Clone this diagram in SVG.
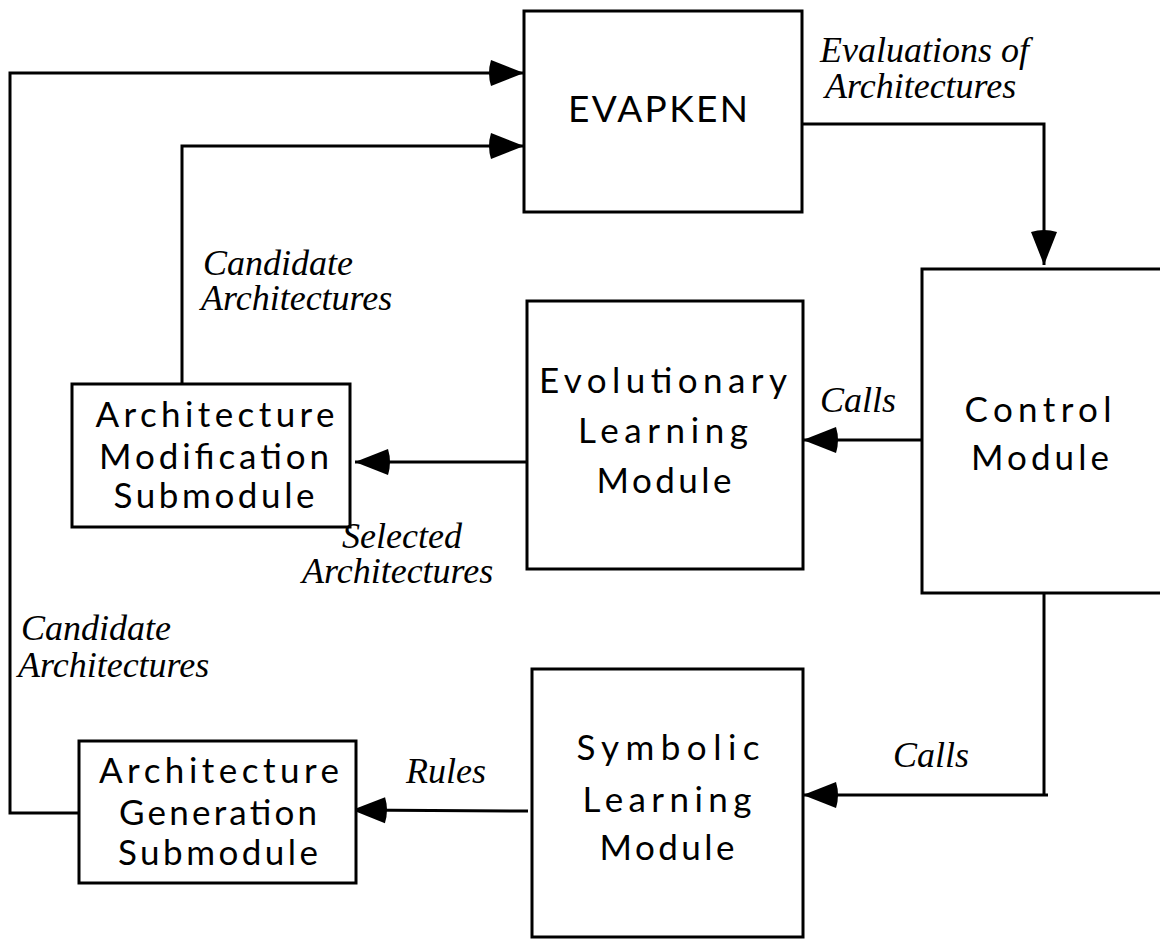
<svg xmlns="http://www.w3.org/2000/svg" width="1160" height="939" viewBox="0 0 1160 939">
<style>
.box{fill:#fff;stroke:#000;stroke-width:3}
.n{font-family:Lato,"DejaVu Sans","Liberation Sans",sans-serif;font-weight:400;font-size:35px;fill:#000;text-anchor:middle}
.lbl{font-family:"Liberation Serif","Times New Roman",serif;font-style:italic;font-weight:400;font-size:36px;fill:#000}
.c{fill:none;stroke:#000;stroke-width:3}
</style>
<defs>
<marker id="ah" markerUnits="userSpaceOnUse" markerWidth="40" markerHeight="30" refX="36" refY="15" orient="auto" overflow="visible">
<path d="M36,15 L3,2 Q-1,15 3,28 Z" fill="#000"/>
</marker>
</defs>
<rect width="1160" height="939" fill="#fff"/>
<g id="connectors">
<path class="c" d="M79,813 H10 V73 H524" marker-end="url(#ah)"/>
<path class="c" d="M182,384 V146 H524" marker-end="url(#ah)"/>
<path class="c" d="M802,124 H1044 V265" marker-end="url(#ah)"/>
<path class="c" d="M922,440 H803" marker-end="url(#ah)"/>
<path class="c" d="M527,462 H355" marker-end="url(#ah)"/>
<path class="c" d="M1044,593 V795"/>
<path class="c" d="M1048,795 H803" marker-end="url(#ah)"/>
<path class="c" d="M528,811 L352,810" marker-end="url(#ah)"/>
</g>
<g id="evapken">
<rect class="box" x="524" y="11" width="278" height="201"/>
<text class="n" x="658" y="122" style="font-size:37px" textLength="180" lengthAdjust="spacing">EVAPKEN</text>
</g>
<g id="control">
<rect class="box" x="922" y="269" width="245" height="324"/>
<text class="n" x="1038" y="422" textLength="147" lengthAdjust="spacing">Control</text>
<text class="n" x="1040" y="470" textLength="138" lengthAdjust="spacing">Module</text>
</g>
<g id="evolutionary">
<rect class="box" x="527" y="301" width="276" height="268"/>
<text class="n" x="663" y="393" textLength="248" lengthAdjust="spacing">Evolutionary</text>
<text class="n" x="663" y="443" textLength="170" lengthAdjust="spacing">Learning</text>
<text class="n" x="664" y="493" textLength="135" lengthAdjust="spacing">Module</text>
</g>
<g id="arch-mod">
<rect class="box" x="72" y="384" width="278" height="143"/>
<text class="n" x="215" y="427" textLength="239" lengthAdjust="spacing">Architecture</text>
<text class="n" x="214" y="469" textLength="230" lengthAdjust="spacing">Modification</text>
<text class="n" x="214" y="508" textLength="201" lengthAdjust="spacing">Submodule</text>
</g>
<g id="symbolic">
<rect class="box" x="532" y="669" width="271" height="268"/>
<text class="n" x="668" y="760" textLength="183" lengthAdjust="spacing">Symbolic</text>
<text class="n" x="667" y="812" textLength="169" lengthAdjust="spacing">Learning</text>
<text class="n" x="667" y="860" textLength="135" lengthAdjust="spacing">Module</text>
</g>
<g id="arch-gen">
<rect class="box" x="79" y="741" width="277" height="142"/>
<text class="n" x="219" y="783" textLength="240" lengthAdjust="spacing">Architecture</text>
<text class="n" x="218" y="825" textLength="198" lengthAdjust="spacing">Generation</text>
<text class="n" x="218" y="865" textLength="200" lengthAdjust="spacing">Submodule</text>
</g>
<g id="labels">
<text class="lbl" x="820" y="62">Evaluations of</text>
<text class="lbl" x="825" y="98">Architectures</text>
<text class="lbl" x="203" y="275">Candidate</text>
<text class="lbl" x="201" y="310">Architectures</text>
<text class="lbl" x="820" y="412">Calls</text>
<text class="lbl" x="342" y="548">Selected</text>
<text class="lbl" x="302" y="583">Architectures</text>
<text class="lbl" x="21" y="640">Candidate</text>
<text class="lbl" x="18" y="677">Architectures</text>
<text class="lbl" x="406" y="783">Rules</text>
<text class="lbl" x="893" y="767">Calls</text>
</g>
</svg>
